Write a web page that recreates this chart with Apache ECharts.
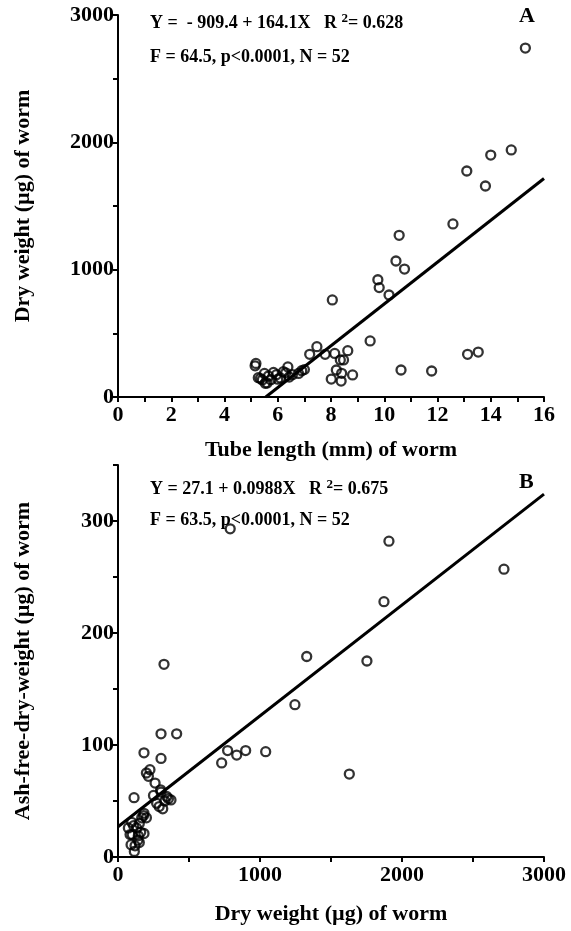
<!DOCTYPE html>
<html lang="en">
<head>
    <meta charset="utf-8">
    <title>Worm tube length and weights</title>
    <script src="https://cdn.jsdelivr.net/npm/echarts@6.0.0/dist/echarts.min.js"></script>
    <style>
        html, body { margin: 0; padding: 0; background: #ffffff; }
        #chart { width: 571px; height: 931px; }
    </style>
</head>
<body>
<div id="chart"></div>
<script>
    // panel A: tube length (mm) vs dry weight (ug)
    var tubeLength = [15.3, 14.77, 14.0, 13.1, 13.8, 12.58, 10.56, 10.44, 10.76, 9.76, 9.81, 10.18, 8.05, 9.47,
        13.13, 13.53, 10.63, 11.78, 5.18, 5.27, 5.5, 5.42, 5.53, 5.84, 5.74, 6.0, 6.21, 6.38, 6.43, 6.78, 6.9,
        7.2, 7.47, 7.78, 8.14, 8.63, 8.35, 8.47, 8.2, 8.4, 8.01, 8.38, 8.81,
        5.15, 5.35, 5.65, 5.95, 6.1, 6.3, 6.55, 7.0, 5.6];
    var dryWeightA = [2740, 1940, 1900, 1775, 1657, 1359, 1270, 1068, 1005, 921, 859, 801, 762, 440,
        335, 353, 212, 204, 264, 152, 185, 134, 108, 193, 136, 140, 199, 236, 157, 185, 207,
        335, 395, 335, 342, 364, 291, 291, 212, 186, 141, 125, 173,
        245, 145, 165, 175, 150, 190, 175, 215, 110];
    var fitA = [[5.55, 0], [16, 1716]];

    // panel B: dry weight (ug) vs ash-free-dry-weight (ug)
    var dryWeightB = [790, 1908, 1873, 2718, 1753, 1329, 1246, 324,
        303, 413, 183, 303, 730, 772, 836, 899, 1040, 1629,
        225, 214, 261, 303, 343, 373, 272, 315, 113, 183, 167, 96, 73, 131, 183, 85, 143, 150, 92, 115,
        200, 300, 330, 290, 180, 150, 110, 160, 100, 140, 120, 200, 250, 355];
    var afdw = [293, 282, 228, 257, 175, 179, 136, 172,
        110, 110, 93, 88, 84, 95, 91, 95, 94, 74,
        78, 72, 66, 58, 54, 51, 48, 43, 53, 39, 35, 31, 26, 26, 21, 20, 19, 13, 11, 5,
        75, 60, 50, 45, 37, 30, 28, 22, 20, 15, 10, 35, 55, 52];
    var fitB = [[0, 27], [3000, 324]];

    function pairs(xs, ys) {
        var out = [];
        for (var i = 0; i < xs.length; i++) out.push([xs[i], ys[i]]);
        return out;
    }

    var serif = 'Liberation Serif';
    var axisLine = {lineStyle: {color: '#000', width: 2}};
    var axisTick = {inside: false, length: 5, lineStyle: {color: '#000', width: 2}};
    var tickFont = {color: '#000', fontFamily: serif, fontWeight: 'bold', fontSize: 22};
    var nameFont = {color: '#000', fontFamily: serif, fontWeight: 'bold', fontSize: 22};

    function labelEvery(step) {
        return function (v) { return v % step === 0 ? String(v) : ''; };
    }

    // rich text for the fit equations (R with raised 2)
    var eqRich = {
        t: {fontFamily: serif, fontWeight: 'bold', fontSize: 18, fill: '#000', verticalAlign: 'bottom'},
        s: {fontFamily: serif, fontWeight: 'bold', fontSize: 13, fill: '#000', verticalAlign: 'top', padding: [0, 0, 7, 0]}
    };
    var statFont = {fontFamily: serif, fontWeight: 'bold', fontSize: 18, fill: '#000'};
    var panelFont = {fontFamily: serif, fontWeight: 'bold', fontSize: 22, fill: '#000'};

    var chart = echarts.init(document.getElementById('chart'), null, {renderer: 'canvas'});

    var option = {
        animation: false,
        backgroundColor: '#ffffff',
        grid: [
            {left: 118, top: 15, width: 426, height: 382},
            {left: 118, top: 465, width: 426, height: 392}
        ],
        xAxis: [
            {
                gridIndex: 0, type: 'value', min: 0, max: 16, interval: 1,
                axisLine: axisLine, axisTick: axisTick, splitLine: {show: false},
                axisLabel: Object.assign({formatter: labelEvery(2), margin: 7}, tickFont),
                name: 'Tube length (mm) of worm', nameLocation: 'middle', nameGap: 42,
                nameTextStyle: nameFont
            },
            {
                gridIndex: 1, type: 'value', min: 0, max: 3000, interval: 500,
                axisLine: axisLine, axisTick: axisTick, splitLine: {show: false},
                axisLabel: Object.assign({formatter: labelEvery(1000), margin: 7}, tickFont),
                name: 'Dry weight (µg) of worm', nameLocation: 'middle', nameGap: 46,
                nameTextStyle: nameFont
            }
        ],
        yAxis: [
            {
                gridIndex: 0, type: 'value', min: 0, max: 3000, interval: 500,
                axisLine: axisLine, axisTick: axisTick, splitLine: {show: false},
                axisLabel: Object.assign({formatter: labelEvery(1000), margin: 4}, tickFont),
                name: 'Dry weight (µg) of worm', nameLocation: 'middle', nameGap: 84,
                nameTextStyle: nameFont
            },
            {
                gridIndex: 1, type: 'value', min: 0, max: 350, interval: 50,
                axisLine: axisLine, axisTick: axisTick, splitLine: {show: false},
                axisLabel: Object.assign({formatter: labelEvery(100), margin: 4}, tickFont),
                name: 'Ash-free-dry-weight (µg) of worm', nameLocation: 'middle', nameGap: 84,
                nameTextStyle: nameFont
            }
        ],
        series: [
            {
                type: 'scatter', xAxisIndex: 0, yAxisIndex: 0,
                data: pairs(tubeLength, dryWeightA),
                symbol: 'circle', symbolSize: 9,
                itemStyle: {color: 'rgba(0,0,0,0)', borderColor: '#000', borderWidth: 2.3}
            },
            {
                type: 'line', xAxisIndex: 0, yAxisIndex: 0, data: fitA,
                showSymbol: false, lineStyle: {color: '#000', width: 3}
            },
            {
                type: 'scatter', xAxisIndex: 1, yAxisIndex: 1,
                data: pairs(dryWeightB, afdw),
                symbol: 'circle', symbolSize: 9,
                itemStyle: {color: 'rgba(0,0,0,0)', borderColor: '#000', borderWidth: 2.3}
            },
            {
                type: 'line', xAxisIndex: 1, yAxisIndex: 1, data: fitB,
                showSymbol: false, lineStyle: {color: '#000', width: 3}
            }
        ],
        graphic: [
            {
                type: 'text', left: 150, top: 12,
                style: {text: '{t|Y =  - 909.4 + 164.1X   R }{s|2}{t|= 0.628}', rich: eqRich}
            },
            {
                type: 'text', left: 150, top: 48,
                style: Object.assign({text: 'F = 64.5, p<0.0001, N = 52'}, statFont)
            },
            {
                type: 'text', left: 519, top: 5,
                style: Object.assign({text: 'A'}, panelFont)
            },
            {
                type: 'text', left: 150, top: 478,
                style: {text: '{t|Y = 27.1 + 0.0988X   R }{s|2}{t|= 0.675}', rich: eqRich}
            },
            {
                type: 'text', left: 150, top: 511,
                style: Object.assign({text: 'F = 63.5, p<0.0001, N = 52'}, statFont)
            },
            {
                type: 'text', left: 519, top: 471,
                style: Object.assign({text: 'B'}, panelFont)
            }
        ]
    };

    chart.setOption(option);
</script>
</body>
</html>
